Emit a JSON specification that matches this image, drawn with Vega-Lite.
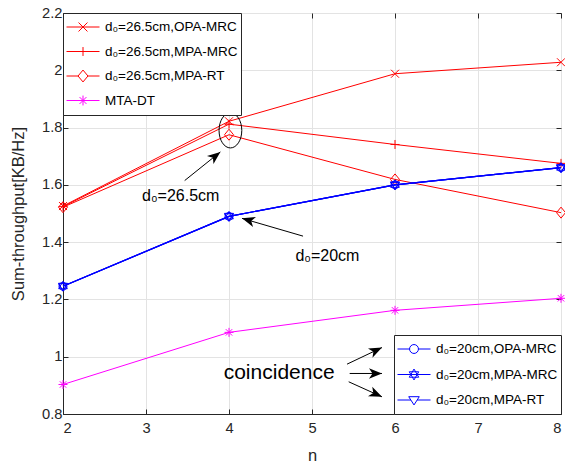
{
  "$schema": "https://vega.github.io/schema/vega-lite/v6.json",
  "width": 498,
  "height": 401,
  "padding": {"left": 10, "top": 5, "right": 5, "bottom": 5},
  "background": "white",
  "config": {
    "font": "Liberation Sans",
    "view": {"stroke": "#262626", "strokeWidth": 1},
    "axis": {
      "domainColor": "#262626",
      "domainWidth": 1,
      "tickColor": "#262626",
      "tickSize": -5,
      "labelColor": "#262626",
      "labelFont": "Liberation Sans",
      "labelFontSize": 14.7,
      "titleFont": "Liberation Sans",
      "titleFontSize": 16.5,
      "titleFontWeight": "normal",
      "titleColor": "#262626",
      "gridColor": "#e3e3e3",
      "gridWidth": 1
    },
    "legend": {
      "labelFont": "Liberation Sans",
      "labelFontSize": 13.5,
      "labelColor": "black",
      "strokeColor": "#262626",
      "fillColor": "white",
      "symbolSize": 1089,
      "symbolStrokeWidth": 1,
      "symbolFillColor": "transparent",
      "symbolOpacity": 1,
      "labelOffset": 5,
      "offset": 0,
      "clipHeight": 22
    }
  },
  "datasets": {
    "series": [
      {"series": "d₀=26.5cm,OPA-MRC", "n": 2, "v": 1.526},
      {"series": "d₀=26.5cm,OPA-MRC", "n": 4, "v": 1.822},
      {"series": "d₀=26.5cm,OPA-MRC", "n": 6, "v": 1.988},
      {"series": "d₀=26.5cm,OPA-MRC", "n": 8, "v": 2.028},
      {"series": "d₀=26.5cm,MPA-MRC", "n": 2, "v": 1.524},
      {"series": "d₀=26.5cm,MPA-MRC", "n": 4, "v": 1.812},
      {"series": "d₀=26.5cm,MPA-MRC", "n": 6, "v": 1.741},
      {"series": "d₀=26.5cm,MPA-MRC", "n": 8, "v": 1.675},
      {"series": "d₀=26.5cm,MPA-RT", "n": 2, "v": 1.522},
      {"series": "d₀=26.5cm,MPA-RT", "n": 4, "v": 1.775},
      {"series": "d₀=26.5cm,MPA-RT", "n": 6, "v": 1.619},
      {"series": "d₀=26.5cm,MPA-RT", "n": 8, "v": 1.503},
      {"series": "MTA-DT", "n": 2, "v": 0.903},
      {"series": "MTA-DT", "n": 4, "v": 1.085},
      {"series": "MTA-DT", "n": 6, "v": 1.162},
      {"series": "MTA-DT", "n": 8, "v": 1.204},
      {"series": "d₀=20cm,OPA-MRC", "n": 2, "v": 1.246},
      {"series": "d₀=20cm,OPA-MRC", "n": 4, "v": 1.49},
      {"series": "d₀=20cm,OPA-MRC", "n": 6, "v": 1.6},
      {"series": "d₀=20cm,OPA-MRC", "n": 8, "v": 1.66},
      {"series": "d₀=20cm,MPA-MRC", "n": 2, "v": 1.246},
      {"series": "d₀=20cm,MPA-MRC", "n": 4, "v": 1.49},
      {"series": "d₀=20cm,MPA-MRC", "n": 6, "v": 1.6},
      {"series": "d₀=20cm,MPA-MRC", "n": 8, "v": 1.66},
      {"series": "d₀=20cm,MPA-RT", "n": 2, "v": 1.246},
      {"series": "d₀=20cm,MPA-RT", "n": 4, "v": 1.49},
      {"series": "d₀=20cm,MPA-RT", "n": 6, "v": 1.6},
      {"series": "d₀=20cm,MPA-RT", "n": 8, "v": 1.66}
    ],
    "arrows": [
      {"id": "a1", "n": 3.466, "v": 1.615, "n2": 3.896, "v2": 1.715},
      {"id": "a2", "n": 4.892, "v": 1.421, "n2": 4.157, "v2": 1.483},
      {"id": "c1", "n": 5.422, "v": 0.974, "n2": 5.843, "v2": 1.032},
      {"id": "c2", "n": 5.454, "v": 0.9415, "n2": 5.843, "v2": 0.9415},
      {"id": "c3", "n": 5.442, "v": 0.9125, "n2": 5.843, "v2": 0.86}
    ],
    "notes": [
      {"label": "d₀=26.5cm", "n": 2.952, "v": 1.543},
      {"label": "d₀=20cm", "n": 4.8, "v": 1.334}
    ],
    "bigNotes": [
      {"label": "coincidence", "n": 3.936, "v": 0.922}
    ],
    "circled": [
      {"n": 4.017, "v": 1.79}
    ]
  },
  "encoding": {
    "x": {"field": "n", "type": "quantitative", "scale": {"domain": [2, 8], "nice": false, "zero": false}, "axis": null},
    "y": {"field": "v", "type": "quantitative", "scale": {"domain": [0.8, 2.2], "nice": false, "zero": false}, "axis": null}
  },
  "resolve": {
    "scale": {"stroke": "independent", "shape": "independent"},
    "axis": {"x": "independent", "y": "independent"}
  },
  "layer": [
    {
      "data": {"name": "series"},
      "transform": [{"filter": {"field": "series", "oneOf": ["d₀=26.5cm,OPA-MRC", "d₀=26.5cm,MPA-MRC", "d₀=26.5cm,MPA-RT", "MTA-DT"]}}],
      "encoding": {
        "x": {
          "field": "n", "type": "quantitative",
          "scale": {"domain": [2, 8], "nice": false, "zero": false},
          "axis": {"orient": "bottom", "values": [2, 3, 4, 5, 6, 7, 8], "format": "d", "grid": true, "title": "n", "labelPadding": 11, "titlePadding": 13}
        },
        "y": {
          "field": "v", "type": "quantitative",
          "scale": {"domain": [0.8, 2.2], "nice": false, "zero": false},
          "axis": {"orient": "left", "values": [0.8, 1, 1.2, 1.4, 1.6, 1.8, 2, 2.2], "format": ".1~f", "grid": true, "title": "Sum-throughput[KB/Hz]", "labelPadding": 6, "titlePadding": 15}
        }
      },
      "layer": [
        {
          "mark": {"type": "line", "strokeWidth": 1},
          "encoding": {
            "stroke": {
              "field": "series", "type": "nominal",
              "scale": {"domain": ["d₀=26.5cm,OPA-MRC", "d₀=26.5cm,MPA-MRC", "d₀=26.5cm,MPA-RT", "MTA-DT"], "range": ["#ff0000", "#ff0000", "#ff0000", "#ff00ff"]},
              "legend": {"title": null, "orient": "top-left", "padding": 3, "rowPadding": 2.5}
            }
          }
        },
        {
          "mark": {"type": "point", "filled": false, "strokeWidth": 1, "size": 0, "opacity": 1},
          "encoding": {
            "stroke": {"field": "series", "type": "nominal"},
            "shape": {
              "field": "series", "type": "nominal",
              "scale": {
                "domain": ["d₀=26.5cm,OPA-MRC", "d₀=26.5cm,MPA-MRC", "d₀=26.5cm,MPA-RT", "MTA-DT"],
                "range": [
                  "M-1,0H1M-0.27,-0.27L0.27,0.27M-0.27,0.27L0.27,-0.27",
                  "M-1,0H1M0,-0.27V0.27",
                  "M-1,0H-0.3M0.3,0H1M0,-0.36L0.3,0L0,0.36L-0.3,0Z",
                  "M-1,0H1M0,-0.3V0.3M-0.21,-0.21L0.21,0.21M-0.21,0.21L0.21,-0.21"
                ]
              },
              "legend": null
            }
          }
        },
        {
          "transform": [{"filter": "datum.series === 'd₀=26.5cm,OPA-MRC'"}],
          "mark": {"type": "point", "shape": "M-0.8,-0.8L0.8,0.8M-0.8,0.8L0.8,-0.8", "filled": false, "stroke": "#ff0000", "strokeWidth": 1, "size": 100, "opacity": 1}
        },
        {
          "transform": [{"filter": "datum.series === 'd₀=26.5cm,MPA-MRC'"}],
          "mark": {"type": "point", "shape": "M-0.9,0H0.9M0,-0.9V0.9", "filled": false, "stroke": "#ff0000", "strokeWidth": 1, "size": 100, "opacity": 1}
        },
        {
          "transform": [{"filter": "datum.series === 'd₀=26.5cm,MPA-RT'"}],
          "mark": {"type": "point", "shape": "M0,-1.1L0.9,0L0,1.1L-0.9,0Z", "filled": false, "stroke": "#ff0000", "strokeWidth": 1, "size": 100, "opacity": 1}
        },
        {
          "transform": [{"filter": "datum.series === 'MTA-DT'"}],
          "mark": {"type": "point", "shape": "M-0.9,0H0.9M0,-0.9V0.9M-0.64,-0.64L0.64,0.64M-0.64,0.64L0.64,-0.64", "filled": false, "stroke": "#ff00ff", "strokeWidth": 1, "size": 100, "opacity": 1}
        }
      ]
    },
    {
      "data": {"name": "series"},
      "transform": [{"filter": {"field": "series", "oneOf": ["d₀=20cm,OPA-MRC", "d₀=20cm,MPA-MRC", "d₀=20cm,MPA-RT"]}}],
      "encoding": {
        "x": {
          "field": "n", "type": "quantitative",
          "scale": {"domain": [2, 8], "nice": false, "zero": false},
          "axis": {"orient": "top", "values": [2, 3, 4, 5, 6, 7, 8], "labels": false, "grid": false, "domain": false, "title": null}
        },
        "y": {
          "field": "v", "type": "quantitative",
          "scale": {"domain": [0.8, 2.2], "nice": false, "zero": false},
          "axis": {"orient": "right", "values": [0.8, 1, 1.2, 1.4, 1.6, 1.8, 2, 2.2], "labels": false, "grid": false, "domain": false, "title": null}
        }
      },
      "layer": [
        {
          "mark": {"type": "line", "strokeWidth": 1.2},
          "encoding": {
            "stroke": {
              "field": "series", "type": "nominal",
              "scale": {"domain": ["d₀=20cm,OPA-MRC", "d₀=20cm,MPA-MRC", "d₀=20cm,MPA-RT"], "range": ["#0000ff", "#0000ff", "#0000ff"]},
              "legend": {"title": null, "orient": "bottom-right", "padding": 3, "rowPadding": 3.5}
            }
          }
        },
        {
          "mark": {"type": "point", "filled": false, "strokeWidth": 1, "size": 0, "opacity": 1},
          "encoding": {
            "stroke": {"field": "series", "type": "nominal"},
            "shape": {
              "field": "series", "type": "nominal",
              "scale": {
                "domain": ["d₀=20cm,OPA-MRC", "d₀=20cm,MPA-MRC", "d₀=20cm,MPA-RT"],
                "range": [
                  "M-1,0H-0.27M0.27,0H1M0.27,0A0.27,0.27 0 1,1 -0.27,0A0.27,0.27 0 1,1 0.27,0Z",
                  "M-1,0H1M0,-0.33L0.286,0.165L-0.286,0.165ZM0,0.33L-0.286,-0.165L0.286,-0.165Z",
                  "M-1,0H-0.19M0.19,0H1M-0.32,-0.2L0.32,-0.2L0,0.3Z"
                ]
              },
              "legend": null
            }
          }
        },
        {
          "transform": [{"filter": "datum.series === 'd₀=20cm,OPA-MRC'"}],
          "mark": {"type": "point", "shape": "M0.8,0A0.8,0.8 0 1,1 -0.8,0A0.8,0.8 0 1,1 0.8,0Z", "filled": false, "stroke": "#0000ff", "strokeWidth": 1, "size": 100, "opacity": 1}
        },
        {
          "transform": [{"filter": "datum.series === 'd₀=20cm,MPA-MRC'"}],
          "mark": {"type": "point", "shape": "M0,-1L0.866,0.5L-0.866,0.5ZM0,1L-0.866,-0.5L0.866,-0.5Z", "filled": false, "stroke": "#0000ff", "strokeWidth": 1, "size": 100, "opacity": 1}
        },
        {
          "transform": [{"filter": "datum.series === 'd₀=20cm,MPA-RT'"}],
          "mark": {"type": "point", "shape": "M-0.9,-0.6L0.9,-0.6L0,0.95Z", "filled": false, "stroke": "#0000ff", "strokeWidth": 1, "size": 100, "opacity": 1}
        }
      ]
    },
    {
      "data": {"name": "circled"},
      "mark": {"type": "point", "shape": "M0.65,0A0.65,1 0 1,1 -0.65,0A0.65,1 0 1,1 0.65,0Z", "size": 1225, "filled": false, "stroke": "black", "strokeWidth": 1, "opacity": 1}
    },
    {
      "data": {"name": "arrows"},
      "mark": {"type": "rule", "color": "black", "strokeWidth": 1},
      "encoding": {
        "x2": {"field": "n2"},
        "y2": {"field": "v2"}
      }
    },
    {
      "data": {"name": "arrows"},
      "transform": [{"filter": "datum.id === 'a1'"}],
      "mark": {"type": "point", "shape": "M0,0L0.6,1.5L0,1.1L-0.6,1.5Z", "size": 300, "filled": true, "color": "black", "opacity": 1, "angle": 51.3},
      "encoding": {
        "x": {"field": "n2", "type": "quantitative", "scale": {"domain": [2, 8], "nice": false, "zero": false}, "axis": null},
        "y": {"field": "v2", "type": "quantitative", "scale": {"domain": [0.8, 2.2], "nice": false, "zero": false}, "axis": null}
      }
    },
    {
      "data": {"name": "arrows"},
      "transform": [{"filter": "datum.id === 'a2'"}],
      "mark": {"type": "point", "shape": "M0,0L0.6,1.5L0,1.1L-0.6,1.5Z", "size": 300, "filled": true, "color": "black", "opacity": 1, "angle": 286.2},
      "encoding": {
        "x": {"field": "n2", "type": "quantitative", "scale": {"domain": [2, 8], "nice": false, "zero": false}, "axis": null},
        "y": {"field": "v2", "type": "quantitative", "scale": {"domain": [0.8, 2.2], "nice": false, "zero": false}, "axis": null}
      }
    },
    {
      "data": {"name": "arrows"},
      "transform": [{"filter": "datum.id === 'c1'"}],
      "mark": {"type": "point", "shape": "M0,0L0.6,1.5L0,1.1L-0.6,1.5Z", "size": 300, "filled": true, "color": "black", "opacity": 1, "angle": 64.6},
      "encoding": {
        "x": {"field": "n2", "type": "quantitative", "scale": {"domain": [2, 8], "nice": false, "zero": false}, "axis": null},
        "y": {"field": "v2", "type": "quantitative", "scale": {"domain": [0.8, 2.2], "nice": false, "zero": false}, "axis": null}
      }
    },
    {
      "data": {"name": "arrows"},
      "transform": [{"filter": "datum.id === 'c2'"}],
      "mark": {"type": "point", "shape": "M0,0L0.6,1.5L0,1.1L-0.6,1.5Z", "size": 300, "filled": true, "color": "black", "opacity": 1, "angle": 90},
      "encoding": {
        "x": {"field": "n2", "type": "quantitative", "scale": {"domain": [2, 8], "nice": false, "zero": false}, "axis": null},
        "y": {"field": "v2", "type": "quantitative", "scale": {"domain": [0.8, 2.2], "nice": false, "zero": false}, "axis": null}
      }
    },
    {
      "data": {"name": "arrows"},
      "transform": [{"filter": "datum.id === 'c3'"}],
      "mark": {"type": "point", "shape": "M0,0L0.6,1.5L0,1.1L-0.6,1.5Z", "size": 300, "filled": true, "color": "black", "opacity": 1, "angle": 114.2},
      "encoding": {
        "x": {"field": "n2", "type": "quantitative", "scale": {"domain": [2, 8], "nice": false, "zero": false}, "axis": null},
        "y": {"field": "v2", "type": "quantitative", "scale": {"domain": [0.8, 2.2], "nice": false, "zero": false}, "axis": null}
      }
    },
    {
      "data": {"name": "notes"},
      "mark": {"type": "text", "align": "left", "baseline": "alphabetic", "fontSize": 16, "font": "Liberation Sans", "color": "black"},
      "encoding": {"text": {"field": "label"}}
    },
    {
      "data": {"name": "bigNotes"},
      "mark": {"type": "text", "align": "left", "baseline": "alphabetic", "fontSize": 21, "font": "Liberation Sans", "color": "black"},
      "encoding": {"text": {"field": "label"}}
    }
  ]
}
